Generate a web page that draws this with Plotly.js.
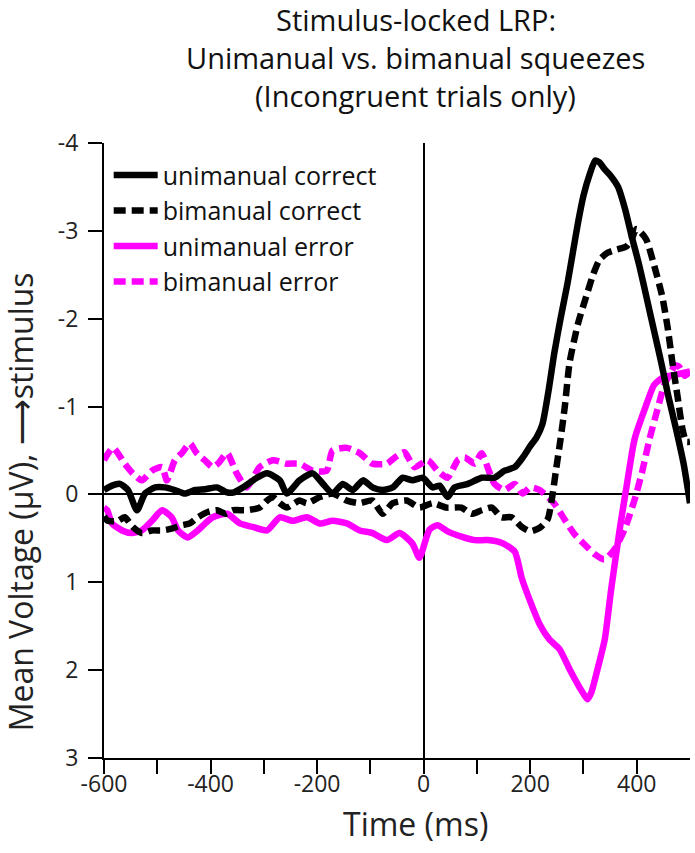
<!DOCTYPE html>
<html>
<head>
<meta charset="utf-8">
<script src="https://cdn.plot.ly/plotly-3.0.1.min.js"></script>
<style>
  body { margin: 0; background: white; }
  #lrp { width: 695px; height: 853px; }
</style>
</head>
<body>
<div id="lrp"></div>
<script>
// unimanual correct (black solid)
var ucTime = [-600,-585,-570,-555,-538,-523,-504,-486,-467,-448,-429,-410,-388,-372,-358,-339,-313,-294,-270,-257,-233,-208,-189,-171,-152,-133,-114,-96,-77,-58,-39,-21,-2,17,30,45,58,83,109,133,152,171,186,200,212,223,235,245,257,270,280,290,300,312,322,330,340,352,365,378,390,405,420,433,446,460,474,488,500];
var ucVolt = [-0.05,-0.1,-0.12,-0.05,0.18,-0.01,-0.08,-0.08,-0.05,-0.01,-0.05,-0.06,-0.08,-0.03,-0.02,-0.08,-0.19,-0.24,-0.16,-0.01,-0.16,-0.24,-0.12,-0.01,-0.12,-0.05,-0.16,-0.08,-0.05,-0.08,-0.19,-0.16,-0.19,-0.08,-0.1,0.03,-0.08,-0.12,-0.19,-0.19,-0.27,-0.31,-0.42,-0.55,-0.65,-0.8,-1.2,-1.6,-2.0,-2.4,-2.75,-3.1,-3.4,-3.65,-3.8,-3.78,-3.7,-3.62,-3.5,-3.25,-2.95,-2.6,-2.2,-1.85,-1.5,-1.1,-0.74,-0.35,0.1];

// bimanual correct (black dashed)
var bcTime = [-600,-593,-574,-561,-546,-529,-510,-491,-473,-454,-439,-424,-405,-388,-372,-358,-332,-308,-294,-283,-270,-257,-233,-219,-195,-171,-144,-120,-96,-77,-58,-32,-8,17,43,71,90,109,128,146,165,184,200,218,233,242,249,257,265,274,290,305,318,330,345,358,370,380,390,399,408,418,433,448,458,467,477,486,493,500];
var bcVolt = [0.25,0.3,0.3,0.26,0.37,0.44,0.41,0.41,0.39,0.35,0.33,0.26,0.2,0.18,0.22,0.18,0.18,0.15,0.07,0.03,0.1,0.15,0.07,0.1,0.03,-0.01,0.07,0.1,0.07,0.22,0.1,0.07,0.15,0.1,0.15,0.15,0.22,0.18,0.15,0.26,0.26,0.37,0.42,0.38,0.28,0.0,-0.3,-0.63,-1.0,-1.5,-1.95,-2.25,-2.5,-2.67,-2.75,-2.78,-2.8,-2.82,-2.9,-3.02,-2.98,-2.9,-2.6,-2.25,-1.9,-1.5,-1.1,-0.74,-0.6,-0.6];

// unimanual error (magenta solid)
var ueTime = [-600,-594,-585,-566,-548,-529,-510,-491,-473,-461,-443,-424,-410,-396,-369,-345,-321,-294,-270,-246,-219,-195,-171,-144,-120,-96,-69,-45,-21,-8,11,26,45,71,96,120,146,171,184,199,218,236,255,274,293,308,315,326,340,352,368,383,396,415,433,452,471,485,500];
var ueVolt = [0.15,0.18,0.33,0.41,0.44,0.41,0.3,0.18,0.26,0.41,0.49,0.41,0.33,0.26,0.22,0.33,0.37,0.41,0.26,0.3,0.26,0.33,0.3,0.33,0.41,0.44,0.52,0.44,0.56,0.72,0.4,0.35,0.42,0.48,0.52,0.52,0.55,0.65,0.95,1.2,1.48,1.65,1.76,1.99,2.2,2.33,2.25,2.0,1.65,1.08,0.4,-0.17,-0.63,-0.97,-1.25,-1.34,-1.36,-1.38,-1.4];

// bimanual error (magenta dashed)
var beTime = [-600,-583,-561,-546,-529,-510,-491,-482,-467,-454,-439,-426,-411,-396,-386,-369,-351,-332,-308,-283,-257,-233,-208,-182,-171,-144,-120,-96,-69,-54,-36,-17,8,26,45,64,77,96,109,120,133,152,171,186,200,218,246,264,283,302,321,339,358,377,396,411,424,439,452,465,472,480,490,500];
var beVolt = [-0.39,-0.53,-0.35,-0.24,-0.16,-0.27,-0.31,-0.16,-0.39,-0.47,-0.58,-0.47,-0.39,-0.31,-0.35,-0.47,-0.24,-0.08,-0.31,-0.39,-0.35,-0.35,-0.27,-0.27,-0.5,-0.53,-0.47,-0.35,-0.35,-0.42,-0.48,-0.31,-0.39,-0.27,-0.19,-0.39,-0.42,-0.35,-0.47,-0.31,-0.12,-0.05,-0.12,-0.01,-0.08,-0.05,0.11,0.28,0.45,0.57,0.68,0.74,0.63,0.4,0.06,-0.28,-0.63,-0.97,-1.25,-1.4,-1.47,-1.45,-1.35,-1.4];

var xTicks = [-600,-500,-400,-300,-200,-100,0,100,200,300,400];
var xTickText = ['-600','','-400','','-200','','0','','200','','400'];
var yTicks = [-4,-3,-2,-1,0,1,2,3];
var yTickText = ['-4','-3','-2','-1','0','1','2','3'];

var titleLines = ['Stimulus-locked LRP:', 'Unimanual vs. bimanual squeezes', '(Incongruent trials only)'];

var magenta = 'rgb(255,0,255)';

function trace(x, y, name, color, dash) {
  return {
    x: x, y: y, name: name,
    type: 'scatter', mode: 'lines',
    line: { color: color, width: 6.5, dash: dash, shape: 'spline', smoothing: 0.6 }
  };
}

// drawn bottom to top; legend is reversed
var data = [
  trace(beTime, beVolt, 'bimanual error', magenta, '12px,6px'),
  trace(ueTime, ueVolt, 'unimanual error', magenta, 'solid'),
  trace(bcTime, bcVolt, 'bimanual correct', 'black', '12px,6px'),
  trace(ucTime, ucVolt, 'unimanual correct', 'black', 'solid')
];

// title lines and axis titles as annotations (positions in paper coords)
var titleY = [1.2016, 1.1398, 1.078];
var annotations = titleLines.map(function (t, i) {
  return {
    text: t, xref: 'paper', yref: 'paper', x: 0.532, y: titleY[i],
    xanchor: 'center', yanchor: 'middle', showarrow: false,
    font: { size: 29, color: '#111' }
  };
});
annotations.push({
  text: 'Time (ms)', xref: 'paper', yref: 'paper', x: 0.532, y: -0.1073,
  xanchor: 'center', yanchor: 'middle', showarrow: false,
  font: { size: 32, color: '#222' }
});
annotations.push({
  text: 'Mean Voltage (\u03bcV), \u27f6stimulus', xref: 'paper', yref: 'paper',
  x: -0.143, y: 0.416, xanchor: 'center', yanchor: 'middle', textangle: -90,
  showarrow: false, font: { size: 32, color: '#222' }
});

var layout = {
  width: 695,
  height: 853,
  margin: { l: 104, r: 5, t: 143, b: 95 },
  paper_bgcolor: 'white',
  plot_bgcolor: 'white',
  font: { family: 'Open Sans, sans-serif', color: '#222' },
  annotations: annotations,
  showlegend: true,
  legend: {
    x: 0.008, y: 0.985, xanchor: 'left', yanchor: 'top',
    traceorder: 'reversed',
    itemwidth: 44,
    font: { size: 25, color: '#111' },
    bgcolor: 'rgba(0,0,0,0)',
    tracegroupgap: 0
  },
  xaxis: {
    range: [-600, 500],
    tickmode: 'array', tickvals: xTicks, ticktext: xTickText,
    ticks: 'outside', ticklen: 14, tickwidth: 2, tickcolor: 'black',
    ticklabelstandoff: -10,
    showline: true, linecolor: 'black', linewidth: 2,
    showgrid: false,
    zeroline: true, zerolinecolor: 'black', zerolinewidth: 2,
    tickfont: { size: 23, color: '#222' }
  },
  yaxis: {
    range: [3, -4],
    tickmode: 'array', tickvals: yTicks, ticktext: yTickText,
    ticks: 'outside', ticklen: 14, tickwidth: 2, tickcolor: 'black',
    ticklabelstandoff: 5,
    showline: true, linecolor: 'black', linewidth: 2,
    showgrid: false,
    zeroline: true, zerolinecolor: 'black', zerolinewidth: 2,
    tickfont: { size: 23, color: '#222' }
  }
};

Plotly.newPlot('lrp', data, layout, { displayModeBar: false });
</script>
</body>
</html>
